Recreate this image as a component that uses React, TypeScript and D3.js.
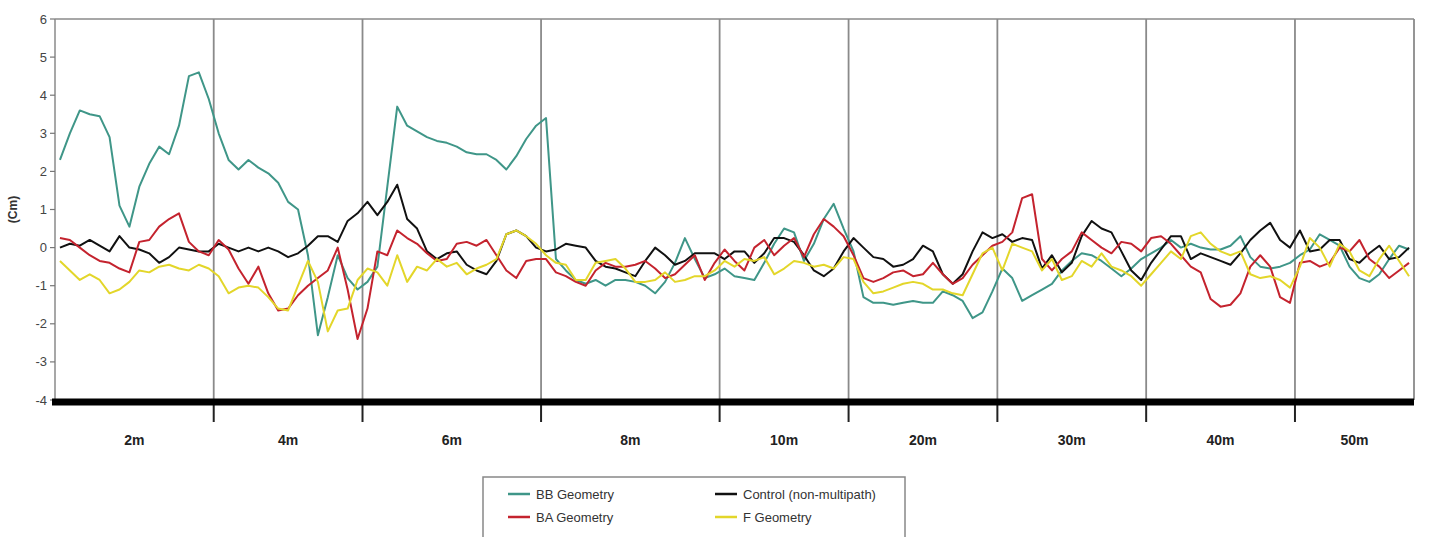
import React, { useEffect, useRef } from "react";
import * as d3 from "d3";

const categories = ["2m", "4m", "6m", "8m", "10m", "20m", "30m", "40m", "50m"];
const samplesPerCategory = [16, 15, 18, 18, 13, 15, 15, 15, 12];
const yTicks = [-4, -3, -2, -1, 0, 1, 2, 3, 4, 5, 6];

const bbGeometry = [
  2.3, 3.0, 3.6, 3.5, 3.45, 2.9, 1.1, 0.55, 1.6, 2.2, 2.65, 2.45, 3.2, 4.5, 4.6, 3.9,
  3.0, 2.3, 2.05, 2.3, 2.1, 1.95, 1.7, 1.2, 1.0, -0.2, -2.3, -1.3, -0.2, -0.8, -1.1,
  -0.9, -0.5, 1.6, 3.7, 3.2, 3.05, 2.9, 2.8, 2.75, 2.65, 2.5, 2.45, 2.45, 2.3, 2.05, 2.4, 2.85, 3.2,
  3.4, -0.3, -0.6, -0.85, -0.95, -0.85, -1.0, -0.85, -0.85, -0.9, -1.0, -1.2, -0.9, -0.4, 0.25, -0.3, -0.8, -0.7,
  -0.55, -0.75, -0.8, -0.85, -0.4, 0.1, 0.5, 0.4, -0.35, 0.1, 0.75, 1.15, 0.5,
  -0.1, -1.3, -1.45, -1.45, -1.5, -1.45, -1.4, -1.45, -1.45, -1.15, -1.25, -1.4, -1.85, -1.7, -1.15,
  -0.55, -0.8, -1.4, -1.25, -1.1, -0.95, -0.6, -0.35, -0.15, -0.2, -0.35, -0.55, -0.75, -0.55, -0.3,
  -0.15, 0, 0.2, 0.0, 0.1, 0, -0.05, -0.05, 0.05, 0.3, -0.25, -0.5, -0.55, -0.5, -0.4,
  -0.2, -0.05, 0.35, 0.2, 0.05, -0.5, -0.8, -0.9, -0.7, -0.3, 0.05, -0.05,
];

const baGeometry = [
  0.25, 0.2, 0.0, -0.2, -0.35, -0.4, -0.55, -0.65, 0.15, 0.2, 0.55, 0.75, 0.9, 0.15, -0.1, -0.2,
  0.2, -0.05, -0.55, -0.95, -0.5, -1.2, -1.65, -1.6, -1.25, -1.0, -0.8, -0.6, 0.0, -1.1, -2.4,
  -1.6, -0.1, -0.2, 0.45, 0.25, 0.1, -0.15, -0.35, -0.3, 0.1, 0.15, 0.05, 0.2, -0.2, -0.6, -0.8, -0.35, -0.3,
  -0.3, -0.65, -0.75, -0.9, -1.0, -0.6, -0.4, -0.5, -0.5, -0.45, -0.35, -0.55, -0.8, -0.7, -0.45, -0.2, -0.85, -0.4,
  -0.05, -0.35, -0.6, 0.0, 0.2, -0.2, 0.05, 0.25, -0.25, 0.35, 0.75, 0.55, 0.3,
  -0.2, -0.8, -0.9, -0.8, -0.65, -0.6, -0.75, -0.7, -0.4, -0.7, -0.95, -0.8, -0.45, -0.2, 0.05,
  0.15, 0.4, 1.3, 1.4, -0.3, -0.6, -0.3, -0.1, 0.4, 0.2, 0.0, -0.15, 0.15, 0.1, -0.1,
  0.25, 0.3, 0.1, -0.2, -0.5, -0.65, -1.35, -1.55, -1.5, -1.2, -0.5, -0.2, -0.5, -1.3, -1.45,
  -0.4, -0.35, -0.5, -0.4, 0.0, -0.1, 0.2, -0.3, -0.5, -0.8, -0.6, -0.4,
];

const controlNonMultipath = [
  0.0, 0.1, 0.05, 0.2, 0.05, -0.1, 0.3, 0.0, -0.05, -0.15, -0.4, -0.25, 0.0, -0.05, -0.1, -0.1,
  0.1, 0.0, -0.1, 0.0, -0.1, 0.0, -0.1, -0.25, -0.15, 0.05, 0.3, 0.3, 0.15, 0.7, 0.9,
  1.2, 0.85, 1.2, 1.65, 0.75, 0.5, -0.1, -0.3, -0.15, -0.1, -0.45, -0.6, -0.7, -0.35, 0.35, 0.45, 0.3, 0.0,
  -0.1, -0.05, 0.1, 0.05, 0.0, -0.35, -0.5, -0.55, -0.65, -0.75, -0.35, 0.0, -0.2, -0.45, -0.35, -0.15, -0.15, -0.15,
  -0.3, -0.1, -0.1, -0.4, -0.15, 0.25, 0.25, 0.15, -0.2, -0.6, -0.75, -0.55, -0.1,
  0.25, 0.0, -0.25, -0.3, -0.5, -0.45, -0.3, 0.05, -0.1, -0.7, -0.95, -0.7, -0.1, 0.4, 0.25,
  0.35, 0.15, 0.25, 0.2, -0.55, -0.2, -0.65, -0.4, 0.3, 0.7, 0.5, 0.4, -0.1, -0.6, -0.85,
  -0.4, -0.05, 0.3, 0.3, -0.3, -0.15, -0.25, -0.35, -0.45, -0.15, 0.2, 0.45, 0.65, 0.2, 0.0,
  0.45, -0.1, -0.05, 0.2, 0.2, -0.3, -0.4, -0.15, 0.05, -0.3, -0.25, 0.0,
];

const fGeometry = [
  -0.35, -0.6, -0.85, -0.7, -0.85, -1.2, -1.1, -0.9, -0.6, -0.65, -0.5, -0.45, -0.55, -0.6, -0.45, -0.55,
  -0.75, -1.2, -1.05, -1.0, -1.05, -1.3, -1.6, -1.65, -1.0, -0.35, -0.9, -2.2, -1.65, -1.6, -0.85,
  -0.55, -0.65, -1.0, -0.2, -0.9, -0.5, -0.6, -0.3, -0.5, -0.4, -0.7, -0.55, -0.45, -0.3, 0.35, 0.45, 0.3, 0.1,
  -0.2, -0.4, -0.45, -0.85, -0.85, -0.4, -0.35, -0.3, -0.55, -0.9, -0.9, -0.85, -0.65, -0.9, -0.85, -0.75, -0.75, -0.6,
  -0.35, -0.5, -0.3, -0.35, -0.25, -0.7, -0.55, -0.35, -0.4, -0.5, -0.45, -0.55, -0.25,
  -0.3, -0.9, -1.2, -1.15, -1.05, -0.95, -0.9, -0.95, -1.1, -1.1, -1.2, -1.25, -0.7, -0.15, 0.0,
  -0.6, 0.1, 0.0, -0.1, -0.6, -0.3, -0.85, -0.75, -0.35, -0.5, -0.15, -0.5, -0.6, -0.75, -1.0,
  -0.7, -0.4, -0.1, -0.3, 0.3, 0.4, 0.1, -0.1, -0.2, -0.1, -0.7, -0.8, -0.75, -0.85, -1.05,
  -0.5, 0.25, 0.0, -0.5, 0.1, -0.1, -0.6, -0.75, -0.3, 0.05, -0.35, -0.75,
];

const seriesNames = ["BB Geometry", "Control (non-multipath)", "BA Geometry", "F Geometry"];
const seriesColors = ["#3f9688", "#111111", "#c4232e", "#e3d62a"];
const seriesData = [bbGeometry, controlNonMultipath, baGeometry, fGeometry];

const W = 1429;
const H = 537;

export default function App() {
  const ref = useRef<SVGSVGElement | null>(null);

  useEffect(() => {
    document.body.style.margin = "0";
    document.body.style.overflow = "hidden";
    const svg = d3.select(ref.current);
    svg.selectAll("*").remove();

    const left = 55, right = 1414, top = 19, bottom = 400;
    const total = d3.sum(samplesPerCategory);
    const x = d3.scaleLinear().domain([0, total]).range([left, right]);
    const y = d3.scaleLinear().domain([-4, 6]).range([bottom, top]);
    const bounds = d3.cumsum(samplesPerCategory);
    const starts = [0, ...Array.from(bounds).slice(0, -1)];

    svg.append("rect").attr("width", W).attr("height", H).attr("fill", "#fff");

    const g = svg.append("g");
    // frame
    g.append("line").attr("x1", left).attr("x2", right).attr("y1", top).attr("y2", top)
      .attr("stroke", "#8a8a8a").attr("stroke-width", 1.5);
    g.append("line").attr("x1", left).attr("x2", left).attr("y1", top).attr("y2", bottom)
      .attr("stroke", "#8a8a8a").attr("stroke-width", 1.5);

    // dividers
    Array.from(bounds).forEach((b, i) => {
      g.append("line").attr("x1", x(b)).attr("x2", x(b)).attr("y1", top).attr("y2", bottom)
        .attr("stroke", "#8a8a8a").attr("stroke-width", 1.8);
      if (i < bounds.length - 1) {
        g.append("line").attr("x1", x(b)).attr("x2", x(b)).attr("y1", bottom).attr("y2", 422)
          .attr("stroke", "#222").attr("stroke-width", 2);
      }
    });

    // y ticks
    yTicks.forEach((t) => {
      g.append("line").attr("x1", left - 5).attr("x2", left).attr("y1", y(t)).attr("y2", y(t))
        .attr("stroke", "#777").attr("stroke-width", 1.2);
      g.append("text").attr("x", left - 8).attr("y", y(t)).attr("dy", "0.35em")
        .attr("text-anchor", "end").attr("font-family", "Liberation Sans, Arial, sans-serif")
        .attr("font-size", 13).attr("fill", "#444").text(String(t));
    });

    g.append("text").attr("transform", `translate(17,${y(1)}) rotate(-90)`)
      .attr("text-anchor", "middle").attr("font-family", "Liberation Sans, Arial, sans-serif")
      .attr("font-weight", "bold").attr("font-size", 12).attr("fill", "#333").text("(Cm)");

    // lines
    const line = d3.line<number>().x((_, i) => x(i + 0.5)).y((d) => y(d)).curve(d3.curveLinear);
    seriesData.forEach((data, k) => {
      g.append("path").attr("d", line(data) as string).attr("fill", "none")
        .attr("stroke", seriesColors[k]).attr("stroke-width", 2).attr("stroke-linejoin", "round");
    });

    // thick x axis
    g.append("line").attr("x1", left - 3).attr("x2", right).attr("y1", y(-4) + 2).attr("y2", y(-4) + 2)
      .attr("stroke", "#000").attr("stroke-width", 7);

    // category labels
    categories.forEach((c, i) => {
      const cx = (x(starts[i]) + x(bounds[i])) / 2;
      g.append("text").attr("x", cx).attr("y", 445).attr("text-anchor", "middle")
        .attr("font-family", "Liberation Sans, Arial, sans-serif").attr("font-weight", "bold")
        .attr("font-size", 14).attr("fill", "#222").text(c);
    });

    // legend
    const lg = svg.append("g");
    lg.append("rect").attr("x", 483).attr("y", 477).attr("width", 422).attr("height", 80)
      .attr("fill", "#fff").attr("stroke", "#888").attr("stroke-width", 1.5);
    const legendPos = [
      { lx: 508, ty: 494 },
      { lx: 715, ty: 494 },
      { lx: 508, ty: 517 },
      { lx: 715, ty: 517 },
    ];
    seriesNames.forEach((name, k) => {
      const p = legendPos[k];
      lg.append("line").attr("x1", p.lx).attr("x2", p.lx + 22).attr("y1", p.ty).attr("y2", p.ty)
        .attr("stroke", seriesColors[k]).attr("stroke-width", 2.5);
      lg.append("text").attr("x", p.lx + 28).attr("y", p.ty).attr("dy", "0.35em")
        .attr("font-family", "Liberation Sans, Arial, sans-serif").attr("font-size", 13)
        .attr("fill", "#333").text(name);
    });
  }, []);

  return (
    <svg ref={ref} width={W} height={H} style={{ position: "absolute", left: 0, top: 0, display: "block" }} />
  );
}
